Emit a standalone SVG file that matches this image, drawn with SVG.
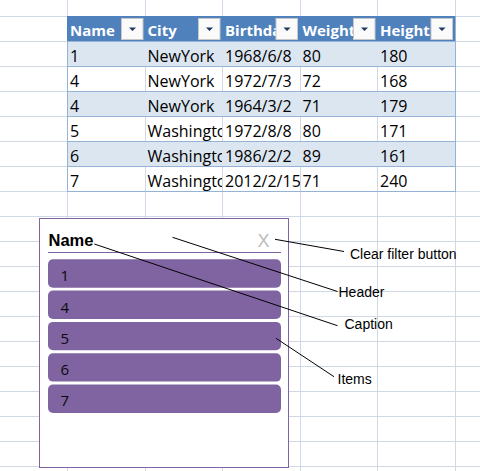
<svg xmlns="http://www.w3.org/2000/svg" width="480" height="471" viewBox="0 0 480 471">
<defs>
<style>
.grid{stroke:#d0d7e5;stroke-width:1;fill:none}
.hdr{font-family:"Open Sans","Liberation Sans",sans-serif;font-weight:bold;font-size:15px;fill:#ffffff}
.cell{font-family:"Open Sans","Liberation Sans",sans-serif;font-size:16px;fill:#000000}
.rowline{stroke:#95b3d7;stroke-width:1}
.btn{fill:#fafafa;stroke:#c8c8c8;stroke-width:1}
.tri{fill:#1f3864}
.item{fill:#8064a2}
.itxt{font-family:"Open Sans","Liberation Sans",sans-serif;font-size:15px;fill:#0a0a0a}
.lbl{font-family:"Liberation Sans",Arial,sans-serif;font-size:14px;fill:#000000}
.conn{stroke:#000000;stroke-width:1;fill:none}
</style>
<clipPath id="c1"><rect x="67" y="16" width="78" height="176"/></clipPath>
<clipPath id="c2"><rect x="145" y="16" width="77" height="176"/></clipPath>
<clipPath id="c3"><rect x="222" y="16" width="78" height="176"/></clipPath>
<clipPath id="c4"><rect x="300" y="16" width="77" height="176"/></clipPath>
<clipPath id="c5"><rect x="377" y="16" width="78" height="176"/></clipPath>
</defs>
<rect width="480" height="471" fill="#ffffff"/>
<g id="grid" class="grid">
<path d="M67.5 0V471M145.5 0V471M222.5 0V471M300.5 0V471M377.5 0V471M455.5 0V471"/>
<path d="M0 16.5H480M0 41.5H480M0 66.5H480M0 91.5H480M0 116.5H480M0 141.5H480M0 166.5H480M0 191.5H480M0 216.5H480M0 241.5H480M0 266.5H480M0 291.5H480M0 316.5H480M0 341.5H480M0 366.5H480M0 391.5H480M0 416.5H480M0 441.5H480M0 466.5H480"/>
</g>
<g id="table">
<rect x="67" y="16" width="389" height="25" fill="#4f81bd"/>
<rect x="67" y="41" width="389" height="25" fill="#dce6f1"/>
<rect x="67" y="91" width="389" height="25" fill="#dce6f1"/>
<rect x="67" y="141" width="389" height="25" fill="#dce6f1"/>
<path class="rowline" d="M67 41.5H456M67 66.5H456M67 91.5H456M67 116.5H456M67 141.5H456M67 166.5H456M67 191.5H456M67.5 41V192M455.5 16V192"/>
<text class="hdr" x="70" y="36" clip-path="url(#c1)">Name</text>
<text class="hdr" x="147.5" y="36" clip-path="url(#c2)">City</text>
<text class="hdr" x="225" y="36" clip-path="url(#c3)">Birthday</text>
<text class="hdr" x="302.5" y="36" clip-path="url(#c4)">Weight</text>
<text class="hdr" x="380" y="36" clip-path="url(#c5)">Height</text>
<rect class="btn" x="121.5" y="18.5" width="21.5" height="21"/>
<rect class="btn" x="198.5" y="18.5" width="21.5" height="21"/>
<rect class="btn" x="276" y="18.5" width="21.5" height="21"/>
<rect class="btn" x="353.5" y="18.5" width="21.5" height="21"/>
<rect class="btn" x="431" y="18.5" width="21.5" height="21"/>
<path class="tri" d="M129 27.5h7l-3.5 3.5zM206 27.5h7l-3.5 3.5zM283.5 27.5h7l-3.5 3.5zM361 27.5h7l-3.5 3.5zM438.5 27.5h7l-3.5 3.5z"/>
<g class="cell">
<g clip-path="url(#c1)">
<text x="70" y="61.5">1</text><text x="70" y="86.5">4</text><text x="70" y="111.5">4</text><text x="70" y="136.5">5</text><text x="70" y="161.5">6</text><text x="70" y="186.5">7</text>
</g>
<g clip-path="url(#c2)">
<text x="147.5" y="61.5">NewYork</text><text x="147.5" y="86.5">NewYork</text><text x="147.5" y="111.5">NewYork</text><text x="147.5" y="136.5">Washington</text><text x="147.5" y="161.5">Washington</text><text x="147.5" y="186.5">Washington</text>
</g>
<g clip-path="url(#c3)">
<text x="225" y="61.5">1968/6/8</text><text x="225" y="86.5">1972/7/3</text><text x="225" y="111.5">1964/3/2</text><text x="225" y="136.5">1972/8/8</text><text x="225" y="161.5">1986/2/2</text><text x="225" y="186.5">2012/2/15</text>
</g>
<g clip-path="url(#c4)">
<text x="302.5" y="61.5">80</text><text x="302.5" y="86.5">72</text><text x="302.5" y="111.5">71</text><text x="302.5" y="136.5">80</text><text x="302.5" y="161.5">89</text><text x="302.5" y="186.5">71</text>
</g>
<g clip-path="url(#c5)">
<text x="380" y="61.5">180</text><text x="380" y="86.5">168</text><text x="380" y="111.5">179</text><text x="380" y="136.5">171</text><text x="380" y="161.5">161</text><text x="380" y="186.5">240</text>
</g>
</g>
</g>
<g id="slicer">
<rect x="39.5" y="218.5" width="249" height="249" fill="#ffffff" stroke="#8064a2" stroke-width="1"/>
<text id="caption" x="48.5" y="246" font-family="'Liberation Sans',Arial,sans-serif" font-weight="bold" font-size="16.5" fill="#000000">Name</text>
<text id="clear" x="257.5" y="246.5" font-family="'Liberation Sans',Arial,sans-serif" font-size="18" fill="#bcbcbc">X</text>
<line x1="48" y1="252.5" x2="281" y2="252.5" stroke="#8064a2" stroke-width="1"/>
</g>
<g id="item1"><rect class="item" x="48" y="259.3" width="233" height="28.4" rx="5"/><text class="itxt" x="60.5" y="281.2">1</text></g>
<g id="item2"><rect class="item" x="48" y="290.6" width="233" height="28.4" rx="5"/><text class="itxt" x="60.5" y="312.5">4</text></g>
<g id="item3"><rect class="item" x="48" y="321.9" width="233" height="28.4" rx="5"/><text class="itxt" x="60.5" y="343.8">5</text></g>
<g id="item4"><rect class="item" x="48" y="353.2" width="233" height="28.4" rx="5"/><text class="itxt" x="60.5" y="375.1">6</text></g>
<g id="item5"><rect class="item" x="48" y="384.5" width="233" height="28.4" rx="5"/><text class="itxt" x="60.5" y="406.4">7</text></g>
<g id="connectors" class="conn">
<line x1="275" y1="239.3" x2="344" y2="251.5"/>
<line x1="172.5" y1="237.3" x2="337.5" y2="291.5"/>
<line x1="94.3" y1="244" x2="337.5" y2="325.7"/>
<line x1="276" y1="338.3" x2="334" y2="376.7"/>
</g>
<g id="labels">
<text class="lbl" x="350" y="259.3">Clear filter button</text>
<text class="lbl" x="338.5" y="297.3">Header</text>
<text class="lbl" x="344.5" y="328.5">Caption</text>
<text class="lbl" x="337.5" y="384">Items</text>
</g>
</svg>
